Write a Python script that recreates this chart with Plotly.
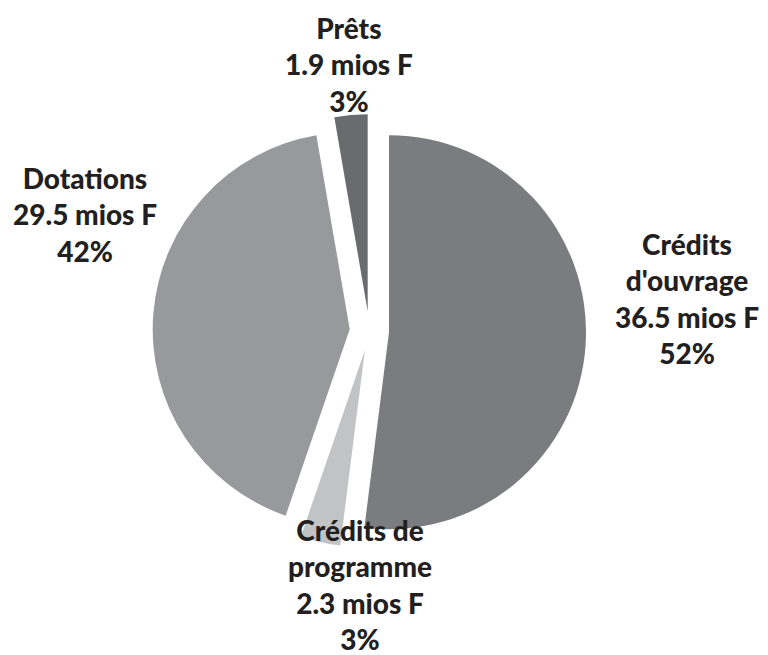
import plotly.graph_objects as go

categories = ["Crédits d'ouvrage", "Crédits de programme", "Dotations", "Prêts"]
label_lines = ["Crédits<br>d'ouvrage", "Crédits de<br>programme", "Dotations", "Prêts"]
values = [36.5, 2.3, 29.5, 1.9]
colors = ["#7b7c80", "#c2c3c5", "#98999d", "#6a6b6f"]

# label block centres (paper fractions)
label_pos = [(679 / 768, 1 - 290 / 655), (352 / 768, 1 - 576 / 655),
             (77 / 768, 1 - 206 / 655), (341 / 768, 1 - 57 / 655)]

total = sum(values)

fig = go.Figure()
fig.add_trace(go.Pie(
    labels=categories,
    values=values,
    sort=False,
    direction="clockwise",
    rotation=0,
    pull=[0.1, 0.1, 0.1, 0.1],
    marker=dict(colors=colors, line=dict(width=0)),
    textinfo="none",
    hoverinfo="label+value+percent",
    showlegend=False,
    domain=dict(x=[0.1883, 0.7527], y=[0.1761, 0.8378]),
))

for lbl, v, (px, py) in zip(label_lines, values, label_pos):
    pct = round(100 * v / total)
    fig.add_annotation(
        x=px, y=py, xref="paper", yref="paper",
        xanchor="center", yanchor="middle",
        text=f"{lbl}<br>{v:.1f} mios F<br>{pct}%",
        showarrow=False, align="center",
        font=dict(family="Lato", size=28, color="#231f20", weight=900),
    )

fig.update_layout(
    width=768, height=655,
    margin=dict(l=0, r=0, t=0, b=0),
    paper_bgcolor="white",
    plot_bgcolor="white",
)

fig.write_html("out.html")
